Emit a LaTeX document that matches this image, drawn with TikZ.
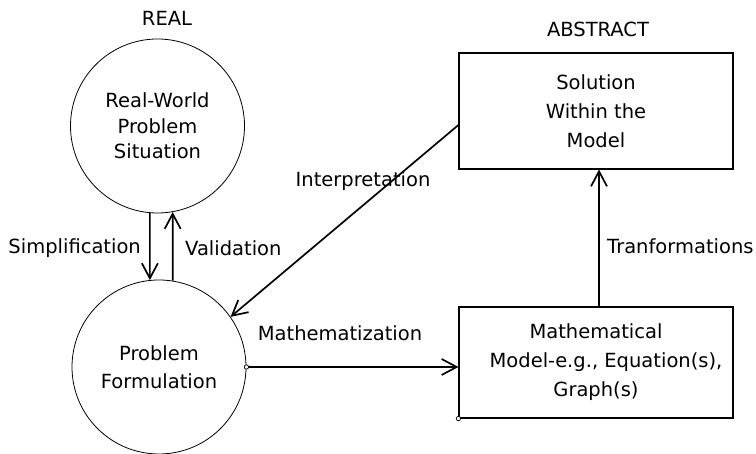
\documentclass[tikz,border=0pt]{standalone}
\usepackage{fontspec}
\setmainfont{DejaVu Sans}
\usetikzlibrary{arrows.meta}
\begin{document}
\begin{tikzpicture}[x=1pt,y=1pt,
  lbl/.style={font=\fontsize{19.5}{22}\selectfont, inner sep=0pt},
  circ/.style={draw, circle, line width=0.8pt, minimum size=174pt, inner sep=0pt, align=center},
  rbox/.style={draw, rectangle, line width=1.1pt, inner sep=0pt, align=center},
  conn/.style={line width=1.7pt, -{Straight Barb[length=15pt, width=16pt, line width=1.7pt]}},
  dot/.style={draw, fill=white, line width=0.7pt}
]
\useasboundingbox (0,0) rectangle (756,454);

\node[circ, font=\fontsize{19.5}{25.5}\selectfont] (top) at (157.5,328) {Real-World\\Problem\\Situation};
\node[circ, font=\fontsize{19.5}{28}\selectfont] (bot) at (159,87) {Problem\\Formulation};

\node[rbox, minimum width=274pt, minimum height=116pt, font=\fontsize{19.5}{29}\selectfont] (sbox) at (596,343) {Solution\\Within the\\Model};
\node[rbox, minimum width=274pt, minimum height=111pt, font=\fontsize{19.5}{29}\selectfont] (mbox) at (596,91.5) {Mathematical\\\hspace*{20pt}Model-e.g., Equation(s),\\Graph(s)};

\node[lbl] (real) at (167,436) {REAL};
\node[lbl] (abstract) at (598,425) {ABSTRACT};
\node[lbl, anchor=east] (simp) at (141,206) {Simplification};
\node[lbl, anchor=west] (valid) at (185,206) {Validation};
\node[lbl] (interp) at (363,273) {Interpretation};
\node[lbl] (mathz) at (340,121) {Mathematization};
\node[lbl, anchor=west] (trans) at (607,208) {Tranformations};

\draw[conn] (top.265) -- (bot.96);
\draw[conn] (bot.81) -- (top.280);
\draw[conn] (bot.east) -- (bot.east -| mbox.west);
\draw[conn] ([yshift=-14pt]sbox.west) -- (bot.35);
\draw[conn] ([xshift=3pt]mbox.north) -- ([xshift=3pt]sbox.south);

\draw[dot] (bot.east) circle (2.2pt);
\draw[dot] (mbox.south west) circle (2.2pt);
\end{tikzpicture}
\end{document}
